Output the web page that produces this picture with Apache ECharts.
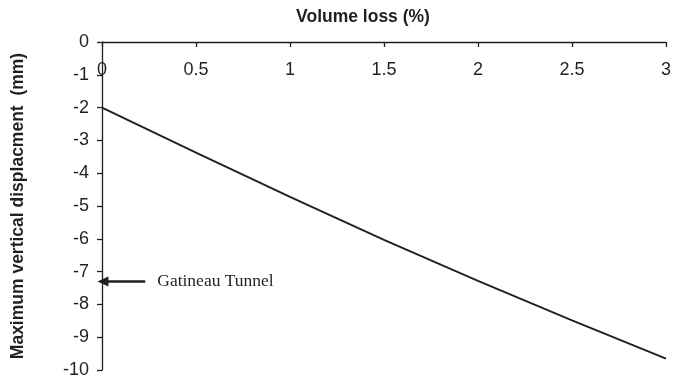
<!DOCTYPE html>
<html>
<head>
<meta charset="utf-8">
<script src="https://cdn.jsdelivr.net/npm/echarts@6/dist/echarts.min.js"></script>
<style>html,body{margin:0;padding:0;background:#fff}#c{width:688px;height:379px}</style>
</head>
<body>
<div id="c"></div>
<script>
var volumeLoss = [0, 0.5, 1, 1.5, 2, 2.5, 3];
var displacement = [-2.0, -3.375, -4.725, -6.035, -7.285, -8.485, -9.65];
var xTicks = [0, 0.5, 1, 1.5, 2, 2.5, 3];
var yTicks = [0, -1, -2, -3, -4, -5, -6, -7, -8, -9, -10];
var annotationText = 'Gatineau Tunnel';
var annotationValue = -7.3;
var annotationFrom = 0.23;
var annotationTo = 0.005;

var ink = '#231f20';
var chart = echarts.init(document.getElementById('c'));
chart.setOption({
  animation: false,
  grid: {left: 102, right: 22, top: 42, bottom: 9},
  xAxis: {
    type: 'value', position: 'top', min: 0, max: 3, interval: 0.5,
    name: 'Volume loss (%)', nameLocation: 'middle', nameGap: 16,
    nameTextStyle: {fontFamily: 'Liberation Sans', fontSize: 17.5, fontWeight: 'bold', color: ink,
      padding: [0, 42, 0, 0]},
    axisLine: {show: true, onZero: false, lineStyle: {color: ink, width: 1.3}},
    axisTick: {show: true, inside: true, length: 5, lineStyle: {color: ink, width: 1.3}},
    axisLabel: {inside: true, margin: 19, fontFamily: 'Liberation Sans', fontSize: 18, color: ink,
      formatter: function (v) { return String(v); }},
    splitLine: {show: false}
  },
  yAxis: {
    type: 'value', min: -10, max: 0, interval: 1,
    name: 'Maximum vertical displacment  (mm)', nameLocation: 'middle', nameGap: 75, nameRotate: 90,
    nameTextStyle: {fontFamily: 'Liberation Sans', fontSize: 17.5, fontWeight: 'bold', color: ink},
    axisLine: {show: true, onZero: false, lineStyle: {color: ink, width: 1.3}},
    axisTick: {show: true, inside: false, length: 5, lineStyle: {color: ink, width: 1.3}},
    axisLabel: {margin: 13, fontFamily: 'Liberation Sans', fontSize: 18, color: ink},
    splitLine: {show: false}
  },
  series: [{
    type: 'line',
    data: volumeLoss.map(function (x, i) { return [x, displacement[i]]; }),
    showSymbol: false, symbol: 'none',
    lineStyle: {color: ink, width: 1.9},
    markLine: {
      silent: true,
      symbol: ['none', 'triangle'],
      symbolSize: [10, 11],
      lineStyle: {color: ink, width: 2.5, type: 'solid'},
      label: {show: true, position: 'start', formatter: annotationText, distance: 12,
        fontFamily: 'Liberation Serif', fontSize: 17.5, color: ink},
      data: [[{coord: [annotationFrom, annotationValue]}, {coord: [annotationTo, annotationValue]}]]
    }
  }]
});
</script>
</body>
</html>
